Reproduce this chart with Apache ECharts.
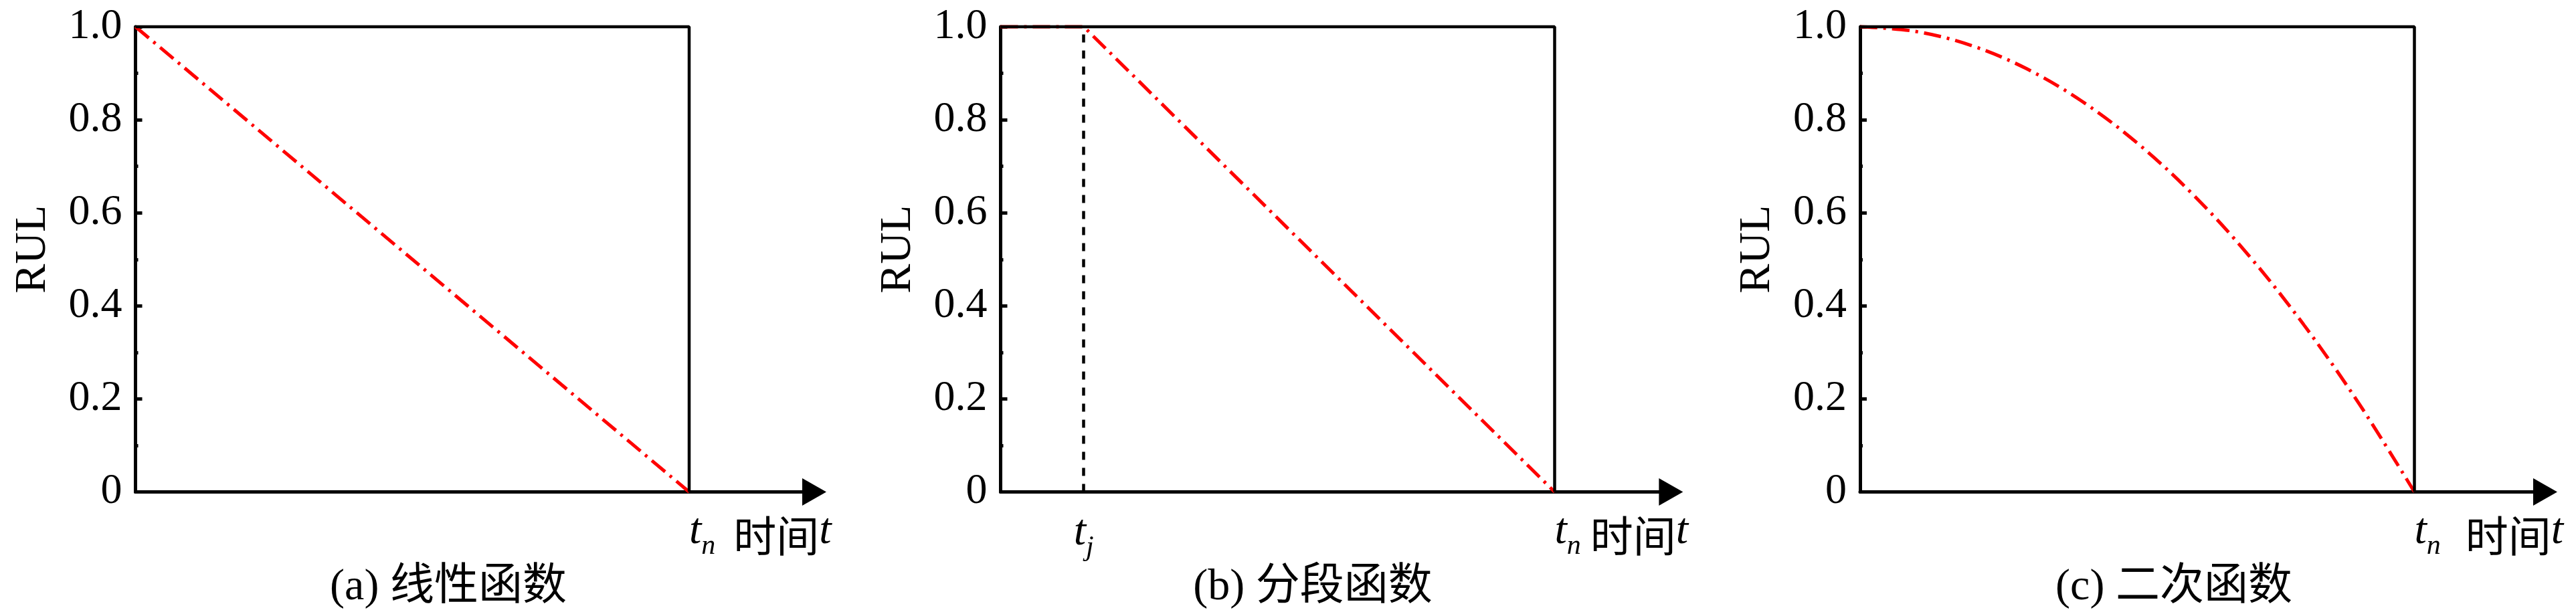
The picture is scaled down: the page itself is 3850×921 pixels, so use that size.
<!DOCTYPE html>
<html><head><meta charset="utf-8">
<script src="https://cdn.jsdelivr.net/npm/echarts@6/dist/echarts.min.js"></script>
<style>html,body{margin:0;padding:0;background:#fff}#c{width:3850px;height:921px}</style>
</head><body><div id="c"></div>
<script>
// ---- data ----
const yTicks = [0, 0.2, 0.4, 0.6, 0.8, 1.0];
const yTickLabels = ['0', '0.2', '0.4', '0.6', '0.8', '1.0'];
const linearT = [0, 1];
const linearRUL = [1, 0];
const pieceT = [0, 0.15, 1];
const pieceRUL = [1, 1, 0];
const quadT = [0, 0.1, 0.2, 0.3, 0.4, 0.5, 0.6, 0.7, 0.8, 0.9, 1.0];
const quadRUL = [1, 0.99, 0.96, 0.91, 0.84, 0.75, 0.64, 0.51, 0.36, 0.19, 0];
const frameT = [0, 1, 1];
const frameRUL = [1, 1, 0];
const tj = 0.15;
const tn = 1;
const captions = ['(a) 线性函数', '(b) 分段函数', '(c) 二次函数'];
const yName = 'RUL';
const xName = '时间';

// ---- layout ----
const panels = [
  { left: 202.5, box: 827.5, xMax: 1.226, cap: 670, sp: 27, t: linearT, v: linearRUL, smooth: false },
  { left: 1495.5, box: 828, xMax: 1.21, cap: 1962, sp: 14, t: pieceT, v: pieceRUL, smooth: false },
  { left: 2780, box: 828.5, xMax: 1.236, cap: 3249, sp: 37, t: quadT, v: quadRUL, smooth: 0.35 }
];
const serif = "'Liberation Serif','Times New Roman',serif";
const cjk = "'Noto Sans CJK SC'";
const mixed = "'Liberation Serif','Noto Sans CJK SC',serif";
const TOP = 40, H = 695.5;
const zip = (a, b) => a.map((x, i) => [x, b[i]]);

const grid = [], xAxis = [], yAxis = [], series = [], title = [];
panels.forEach((p, i) => {
  grid.push({ left: p.left, top: TOP, width: p.xMax * p.box, height: H, outerBoundsMode: 'none', containLabel: false });
  xAxis.push({
    type: 'value', gridIndex: i, min: 0, max: p.xMax,
    axisLine: { show: true, onZero: false, symbol: ['none', 'triangle'], symbolSize: [41, 36], lineStyle: { color: '#000', width: 5 } },
    axisTick: { show: false }, splitLine: { show: false },
    axisLabel: {
      show: true, customValues: [tn], align: 'left', margin: 24,
      formatter: () => '{t|t}{n|n}{sp| }{c|' + xName + '}{t|t}',
      rich: {
        t: { fontFamily: serif, fontStyle: 'italic', fontSize: 66, lineHeight: 70, color: '#000' },
        n: { fontFamily: serif, fontStyle: 'italic', fontSize: 42, lineHeight: 42, padding: [44, 0, 0, 0], color: '#000' },
        sp: { width: p.sp, fontSize: 10 },
        c: { fontFamily: cjk, fontSize: 64, lineHeight: 70, padding: [12, 0, 0, 0], color: '#000' }
      }
    }
  });
  yAxis.push({
    type: 'value', gridIndex: i, min: 0, max: 1, interval: 0.2,
    axisLine: { show: true, lineStyle: { color: '#000', width: 5 } },
    axisTick: { show: true, inside: true, length: 10, lineStyle: { color: '#000', width: 5 } },
    minorTick: { show: true, splitNumber: 2, length: 4, lineStyle: { color: '#000', width: 5 } },
    splitLine: { show: false },
    axisLabel: {
      margin: 20, fontSize: 64, fontFamily: serif, color: '#000',
      formatter: v => yTickLabels[yTicks.findIndex(t => Math.abs(t - v) < 1e-6)]
    },
    name: yName, nameLocation: 'middle', nameGap: 120,
    nameTextStyle: { fontSize: 66, fontFamily: serif, color: '#000', padding: [0, 0, 0, 30] }
  });
  series.push({
    type: 'line', xAxisIndex: i, yAxisIndex: i, data: zip(p.t, p.v), symbol: 'none',
    smooth: p.smooth, clip: false, silent: true, z: 2,
    lineStyle: { color: '#ff0000', width: 5, type: [26, 9, 4, 9] }
  });
  const frame = {
    type: 'line', xAxisIndex: i, yAxisIndex: i, data: zip(frameT, frameRUL), symbol: 'none',
    clip: false, silent: true, z: 3, lineStyle: { color: '#000', width: 4.5 }
  };
  if (i === 1) {
    frame.markLine = {
      symbol: ['none', 'none'], silent: true, animation: false,
      lineStyle: { color: '#000', width: 4.5, type: [12, 12] },
      label: {
        show: true, position: 'start', distance: 26,
        formatter: '{t|t}{j|j}',
        rich: {
          t: { fontFamily: serif, fontStyle: 'italic', fontSize: 66, lineHeight: 70, color: '#000' },
          j: { fontFamily: serif, fontStyle: 'italic', fontSize: 42, lineHeight: 42, padding: [44, 0, 0, 0], color: '#000' }
        }
      },
      emphasis: { disabled: true },
      data: [{ xAxis: tj }]
    };
  }
  series.push(frame);
  title.push({
    text: captions[i], left: p.cap, top: 841, textAlign: 'center', padding: 0,
    textStyle: { fontSize: 66, fontFamily: mixed, fontWeight: 'normal', color: '#000', lineHeight: 76 }
  });
});

const chart = echarts.init(document.getElementById('c'), null, { renderer: 'canvas' });
chart.setOption({ backgroundColor: '#fff', animation: false, title, grid, xAxis, yAxis, series });
</script></body></html>
